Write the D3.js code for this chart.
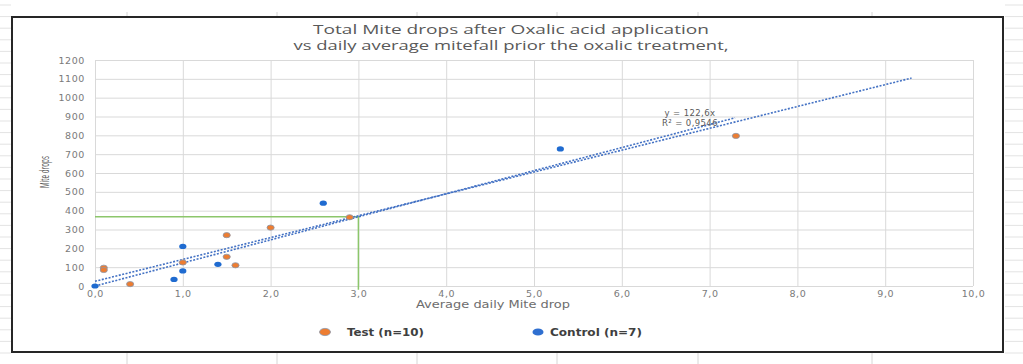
<!DOCTYPE html>
<html>
<head>
<meta charset="utf-8">
<script src="https://cdn.jsdelivr.net/npm/d3@7"></script>
<style>
  body { margin: 0; background: #fff; }
  svg { display: block; }
</style>
</head>
<body>
<svg width="1023" height="364"></svg>
<script>
// values
const testX = [0.1, 0.1, 0.4, 1.0, 1.5, 1.5, 1.6, 2.0, 2.9, 7.3];
const testY = [97, 85, 10, 125, 270, 155, 110, 310, 365, 797];
const controlX = [0.0, 0.9, 1.0, 1.0, 1.4, 2.6, 5.3];
const controlY = [0, 35, 210, 80, 115, 440, 728];

// the two dotted trend lines (end points as drawn)
const trendAX = [0, 7.29];
const trendAY = [0, 893];
const trendBX = [0, 9.3];
const trendBY = [25, 1104];

// green guide line
const guideX = [0, 3, 3];
const guideY = [368, 368, -20];

const xTicks = [0, 1, 2, 3, 4, 5, 6, 7, 8, 9, 10];
const xTickLabels = ['0,0', '1,0', '2,0', '3,0', '4,0', '5,0', '6,0', '7,0', '8,0', '9,0', '10,0'];
const yTicks = [0, 100, 200, 300, 400, 500, 600, 700, 800, 900, 1000, 1100, 1200];

const titleLines = ['Total Mite drops after Oxalic acid application',
                    'vs daily average mitefall prior the oxalic treatment,'];
const seriesNames = ['Test (n=10)', 'Control (n=7)'];
const trendLabel = ['y = 122,6x', 'R\u00b2 = 0,9546'];

const orange = '#ed7d31';
const blue = '#1f6bd0';
const trendBlue = '#4472c4';
const green = '#8cc66b';

const svg = d3.select('svg');

// spreadsheet cell lines behind the chart
const rowLines = d3.range(5, 364, 11.6);
svg.append('g')
    .selectAll('line')
    .data(rowLines)
    .enter()
    .append('line')
    .attr('x1', 0).attr('x2', 11)
    .attr('y1', d => d).attr('y2', d => d)
    .attr('stroke', '#e3e3e3');
svg.append('g')
    .selectAll('line')
    .data(rowLines)
    .enter()
    .append('line')
    .attr('x1', 1005).attr('x2', 1023)
    .attr('y1', d => d).attr('y2', d => d)
    .attr('stroke', '#e3e3e3');
const colLines = [127, 277, 417, 557, 698, 872];
svg.append('g')
    .selectAll('line')
    .data(colLines)
    .enter()
    .append('line')
    .attr('x1', d => d).attr('x2', d => d)
    .attr('y1', 12).attr('y2', 16)
    .attr('stroke', '#d6d6d6');
svg.append('g')
    .selectAll('line')
    .data(colLines)
    .enter()
    .append('line')
    .attr('x1', d => d).attr('x2', d => d)
    .attr('y1', 353).attr('y2', 364)
    .attr('stroke', '#d6d6d6');

// chart frame
svg.append('rect')
    .attr('x', 12).attr('y', 17)
    .attr('width', 991).attr('height', 335)
    .attr('fill', '#fff')
    .attr('stroke', '#262626')
    .attr('stroke-width', 2);

const xScale = d3.scaleLinear().domain([0, 10]).range([95, 973]);
const yScale = d3.scaleLinear().domain([0, 1200]).range([286, 60]);

// grid
svg.append('g')
    .attr('transform', 'translate(0, 286)')
    .call(d3.axisBottom(xScale).tickValues(xTicks).tickSize(-226).tickFormat(''))
    .call(g => g.select('.domain').remove())
    .call(g => g.selectAll('line').attr('stroke', '#d9d9d9'));
svg.append('g')
    .attr('transform', 'translate(95, 0)')
    .call(d3.axisLeft(yScale).tickValues(yTicks).tickSize(-878).tickFormat(''))
    .call(g => g.select('.domain').remove())
    .call(g => g.selectAll('line').attr('stroke', '#d9d9d9'));

// tick labels
svg.append('g')
    .attr('transform', 'translate(85, 0)')
    .call(d3.axisLeft(yScale).tickValues(yTicks).tickSize(0).tickPadding(0)
        .tickFormat(d => String(d)))
    .call(g => g.select('.domain').remove())
    .call(g => g.selectAll('text')
        .attr('fill', '#7a7a7a')
        .style('font-family', 'DejaVu Sans')
        .style('font-size', '9.5px')
        .style('letter-spacing', '0.6px'));
svg.append('g')
    .attr('transform', 'translate(0, 290)')
    .call(d3.axisBottom(xScale).tickValues(xTicks).tickSize(0).tickPadding(0)
        .tickFormat((d, i) => xTickLabels[i]))
    .call(g => g.select('.domain').remove())
    .call(g => g.selectAll('text')
        .attr('fill', '#7a7a7a')
        .style('font-family', 'DejaVu Sans')
        .style('font-size', '9.5px')
        .style('letter-spacing', '0.6px'));

// green guide
const line = d3.line().x(d => xScale(d[0])).y(d => yScale(d[1]));
svg.append('path')
    .datum(guideX.map((x, i) => [x, guideY[i]]))
    .attr('d', line)
    .attr('fill', 'none')
    .attr('stroke', green)
    .attr('stroke-width', 1.5);

// trend lines
[[trendAX, trendAY], [trendBX, trendBY]].forEach(([xs, ys]) => {
    svg.append('path')
        .datum(xs.map((x, i) => [x, ys[i]]))
        .attr('d', line)
        .attr('fill', 'none')
        .attr('stroke', trendBlue)
        .attr('stroke-width', 1.6)
        .attr('stroke-dasharray', '2,1.5');
});

// points
svg.append('g')
    .selectAll('ellipse')
    .data(controlX.map((x, i) => [x, controlY[i]]))
    .enter()
    .append('ellipse')
    .attr('cx', d => xScale(d[0]))
    .attr('cy', d => yScale(d[1]))
    .attr('rx', 3.6).attr('ry', 2.6)
    .attr('fill', blue);
svg.append('g')
    .selectAll('ellipse')
    .data(testX.map((x, i) => [x, testY[i]]))
    .enter()
    .append('ellipse')
    .attr('cx', d => xScale(d[0]))
    .attr('cy', d => yScale(d[1]))
    .attr('rx', 3.6).attr('ry', 2.6)
    .attr('fill', orange)
    .attr('stroke', '#8b96a8')
    .attr('stroke-width', 0.8);

// trend label
svg.append('g')
    .selectAll('text')
    .data(trendLabel)
    .enter()
    .append('text')
    .attr('x', 690)
    .attr('y', (d, i) => 116 + i * 10)
    .attr('text-anchor', 'middle')
    .attr('fill', '#595959')
    .style('font-family', 'DejaVu Sans')
    .style('font-size', '8.5px')
    .style('letter-spacing', '0.4px')
    .text(d => d);

// title
svg.append('g')
    .selectAll('text')
    .data(titleLines)
    .enter()
    .append('text')
    .attr('x', 511)
    .attr('y', (d, i) => 34 + i * 15.5)
    .attr('text-anchor', 'middle')
    .attr('fill', '#595959')
    .attr('textLength', (d, i) => i ? 435 : 396)
    .attr('lengthAdjust', 'spacingAndGlyphs')
    .style('font-family', 'Open Sans')
    .style('font-size', '12.5px')
    .text(d => d);

// axis titles
svg.append('text')
    .attr('x', 493)
    .attr('y', 308)
    .attr('text-anchor', 'middle')
    .attr('fill', '#6d6d6d')
    .attr('textLength', 154)
    .attr('lengthAdjust', 'spacingAndGlyphs')
    .style('font-family', 'DejaVu Sans')
    .style('font-size', '10px')
    .text('Average daily Mite drop');

svg.append('text')
    .attr('transform', 'translate(49, 172) rotate(-90)')
    .attr('text-anchor', 'middle')
    .attr('fill', '#595959')
    .attr('textLength', 32)
    .attr('lengthAdjust', 'spacingAndGlyphs')
    .style('font-family', 'Open Sans')
    .style('font-size', '12px')
    .text('Mite drops');

// legend
const legendX = [325, 538];
const legend = svg.append('g')
    .selectAll('g')
    .data(seriesNames)
    .enter()
    .append('g')
    .attr('transform', (d, i) => `translate(${legendX[i]}, 332)`);
legend.append('ellipse')
    .attr('rx', 5.5).attr('ry', 3.6)
    .attr('fill', (d, i) => i ? '#2f6fd0' : orange)
    .attr('stroke', (d, i) => i ? 'none' : '#8b96a8')
    .attr('stroke-width', 0.8);
legend.append('text')
    .attr('x', (d, i) => i ? 12 : 22)
    .attr('y', 4)
    .attr('fill', '#404040')
    .attr('textLength', (d, i) => i ? 92 : 77)
    .attr('lengthAdjust', 'spacingAndGlyphs')
    .style('font-family', 'DejaVu Sans')
    .style('font-size', '10px')
    .style('font-weight', 'bold')
    .text(d => d);
</script>
</body>
</html>
